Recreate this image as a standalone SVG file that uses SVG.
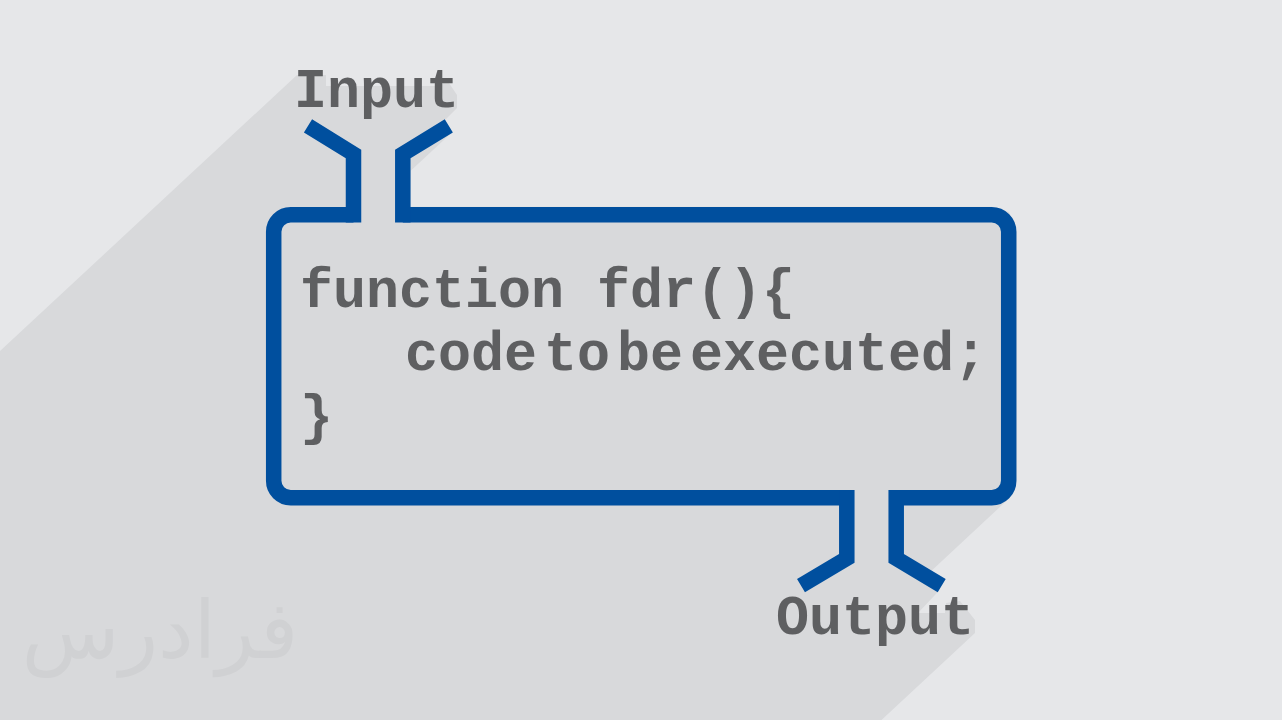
<svg xmlns="http://www.w3.org/2000/svg" width="1282" height="720" viewBox="0 0 1282 720">
  <style>
    .bg { fill: #E6E7E9; }
    .shadow { fill: #D8D9DB; }
    .wire { fill: none; stroke: #004F9E; stroke-width: 15.5; stroke-linejoin: miter; stroke-miterlimit: 10; stroke-linecap: butt; }
    .code { font-family: 'Courier New', 'Liberation Mono', monospace; font-weight: bold; font-size: 55px; fill: #5E5F61; }
    .mark { font-family: 'DejaVu Sans', 'Noto Sans', sans-serif; font-size: 80px; fill: #D0D1D3; }
  </style>
  <rect class="bg" x="0" y="0" width="1282" height="720"/>
  <!-- long shadow -->
  <polygon class="shadow" points="297,75 326,75 326,86 440,86 447,80 457,95 457,108 445,120 452.7,131.7 410.7,170.8 410.7,206.7 991.7,206.7 1009,212 1016.7,232 1016.7,480.5 1013,494 1008.7,498.8 931.5,570.7 945.6,579.2 937.8,592 918,613 945,613 946,603 960,601 975,620 975,633 881.5,720 0,720 0,351"/>
  <text class="mark" x="160" y="658" text-anchor="middle">فرادرس</text>

  <g id="function-box">
    <rect x="273.7" y="214.7" width="735" height="283.1" rx="17" class="shadow"/>
    <path class="wire" d="M353.5,214.7 L290.7,214.7 A17,17 0 0 0 273.7,231.7 L273.7,480.8 A17,17 0 0 0 290.7,497.8 L846.8,497.8 M896.2,497.8 L991.7,497.8 A17,17 0 0 0 1008.7,480.8 L1008.7,231.7 A17,17 0 0 0 991.7,214.7 L402.8,214.7"/>
    <text class="code" x="300" y="307">function fdr(){</text>
    <text class="code" x="405" y="370" word-spacing="-26">code to be executed;</text>
    <text class="code" x="300" y="433">}</text>
  </g>

  <g id="input-label">
    <text class="code" x="294" y="107">Input</text>
  </g>

  <g id="output-label">
    <text class="code" x="776" y="634">Output</text>
  </g>

  <g id="connectors">
    <path class="wire" d="M308,125.8 L353.5,154 L353.5,222.5"/>
    <path class="wire" d="M448.8,125.8 L402.8,154 L402.8,222.5"/>
    <path class="wire" d="M846.8,490 L846.8,558.3 L801,585.6"/>
    <path class="wire" d="M896.2,490 L896.2,558.3 L941.7,585.6"/>
  </g>
</svg>
